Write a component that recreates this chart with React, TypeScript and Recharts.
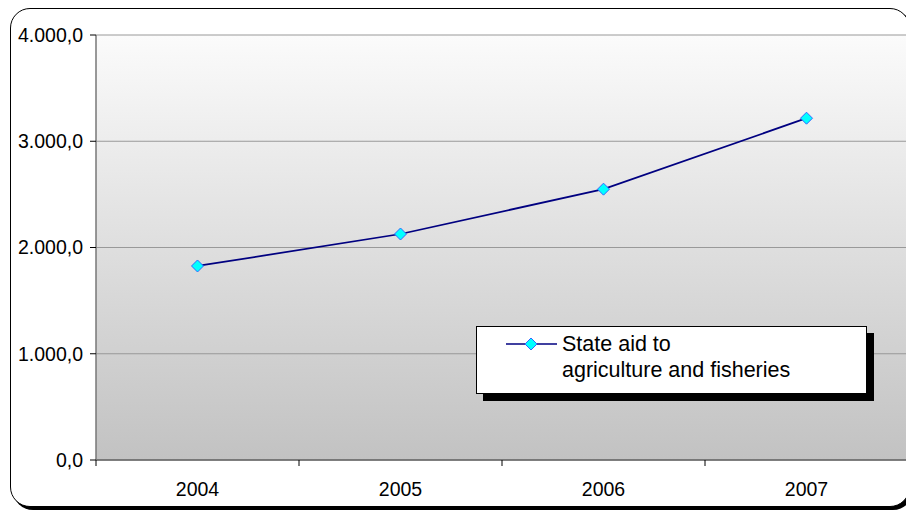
import React from 'react';
import { LineChart, Line, XAxis, YAxis, CartesianGrid, Legend } from 'recharts';

const years = ['2004', '2005', '2006', '2007'];
const stateAid = [1826, 2127, 2549, 3217];
const yTicks = [0, 1000, 2000, 3000, 4000];
const seriesName = 'State aid to agriculture and fisheries';
const legendLines = ['State aid to', 'agriculture and fisheries'];

const data = years.map((y, i) => ({ year: y, value: stateAid[i] }));

const FONT = '"Liberation Sans", Arial, sans-serif';
const X_TICK_SIZE = 6;
const X_TICK_MARGIN = 16;

const fmt = (v: number) => {
  const s = Math.round(v).toString().replace(/\B(?=(\d{3})+(?!\d))/g, '.');
  return s + ',0';
};

const Diamond = (props: any) => {
  const { cx, cy } = props;
  if (cx == null || cy == null) return null;
  const r = 6;
  return (
    <path
      d={`M${cx},${cy - r}L${cx + r},${cy}L${cx},${cy + r}L${cx - r},${cy}Z`}
      fill="#00ffff"
      stroke="#3366ff"
      strokeWidth={1}
    />
  );
};

const XTick = (props: any) => {
  const { x, y, payload, index, width, visibleTicksCount } = props;
  const half = payload && payload.offset ? payload.offset : width / visibleTicksCount / 2;
  const axisY = y - X_TICK_SIZE - X_TICK_MARGIN;
  return (
    <g>
      {index === 0 && (
        <line x1={x - half} x2={x - half} y1={axisY} y2={axisY + X_TICK_SIZE} stroke="#000" strokeWidth={1} />
      )}
      <line x1={x + half} x2={x + half} y1={axisY} y2={axisY + X_TICK_SIZE} stroke="#000" strokeWidth={1} />
      <text x={x} y={y} dy="0.71em" textAnchor="middle" fill="#000" fontSize={19.5} fontFamily={FONT}>
        {payload.value}
      </text>
    </g>
  );
};

const LegendBox = () => (
  <div
    style={{
      width: 389,
      height: 66,
      border: '1px solid #000',
      background: '#fff',
      boxShadow: '7px 7px 0 #000',
    }}
  >
    <svg width={389} height={66} style={{ display: 'block' }}>
      <line x1={29} x2={80} y1={17} y2={17} stroke="#000080" strokeWidth={1.5} />
      <Diamond cx={54} cy={17} />
      {legendLines.map((t, i) => (
        <text key={i} x={85} y={24 + i * 26} fontSize={21.5} fontFamily={FONT} fill="#000">
          {t}
        </text>
      ))}
    </svg>
  </div>
);

export default function App() {
  return (
    <div
      style={{
        position: 'absolute',
        left: 0,
        top: 0,
        width: 906,
        height: 510,
        overflow: 'hidden',
        background: '#fff',
        fontFamily: FONT,
      }}
    >
      <div
        style={{
          position: 'absolute',
          left: 10,
          top: 8,
          width: 898,
          height: 497,
          border: '1.5px solid #000',
          borderRadius: 20,
          boxShadow: '3px 3px 0 #000',
          background: '#fff',
        }}
      />
      <div style={{ position: 'absolute', left: 0, top: 0 }}>
        <LineChart width={912} height={510} data={data} margin={{ top: 35, right: 4, bottom: 0, left: 0 }}>
          <defs>
            <linearGradient id="plotBg" x1="0" y1="0" x2="0" y2="1">
              <stop offset="0%" stopColor="#fbfbfb" />
              <stop offset="100%" stopColor="#c2c2c2" />
            </linearGradient>
          </defs>
          <CartesianGrid vertical={false} stroke="#999999" fill="url(#plotBg)" fillOpacity={1} />
          <XAxis
            dataKey="year"
            scale="band"
            height={50}
            axisLine={{ stroke: '#666666', strokeWidth: 1.5 }}
            tickLine={false}
            tickSize={X_TICK_SIZE}
            tickMargin={X_TICK_MARGIN}
            tick={<XTick />}
            interval={0}
          />
          <YAxis
            width={96}
            domain={[0, 4000]}
            ticks={yTicks}
            tickFormatter={fmt}
            axisLine={{ stroke: '#777777', strokeWidth: 1.5 }}
            tickLine={{ stroke: '#000' }}
            tickSize={6}
            tickMargin={7}
            tick={{ fill: '#000', fontSize: 19.5, fontFamily: FONT }}
            interval={0}
          />
          <Legend
            layout="vertical"
            align="center"
            verticalAlign="middle"
            content={<LegendBox />}
            wrapperStyle={{ left: 476, top: 326, width: 400, height: 80 }}
          />
          <Line
            name={seriesName}
            dataKey="value"
            stroke="#000080"
            strokeWidth={1.75}
            dot={<Diamond />}
            activeDot={false}
            isAnimationActive={false}
          />
        </LineChart>
      </div>
    </div>
  );
}
